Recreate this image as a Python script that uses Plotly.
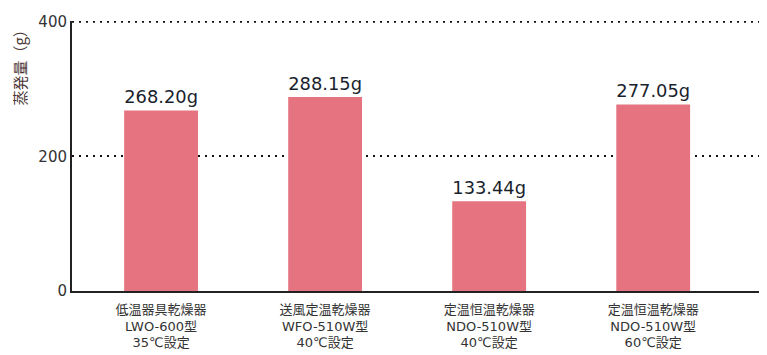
import plotly.graph_objects as go

categories = [
    "低温器具乾燥器<br>LWO-600型<br>35℃設定",
    "送風定温乾燥器<br>WFO-510W型<br>40℃設定",
    "定温恒温乾燥器<br>NDO-510W型<br>40℃設定",
    "定温恒温乾燥器<br>NDO-510W型<br>60℃設定",
]
values = [268.20, 288.15, 133.44, 277.05]
value_labels = ["268.20g", "288.15g", "133.44g", "277.05g"]
y_ticks = [0, 200, 400]
y_title = "蒸発量（g）"

FONT = "DejaVu Sans, Noto Sans CJK JP, sans-serif"
CJK = "Noto Sans CJK JP, sans-serif"

fig = go.Figure()
fig.add_trace(go.Bar(
    x=list(range(len(categories))),
    y=values,
    width=0.45,
    marker=dict(color="#E57380", line=dict(width=0)),
    text=value_labels,
    textposition="outside",
    textfont=dict(size=18, color="#1a1f2e", family=FONT),
    cliponaxis=False,
))

# top gridline (plotly omits the grid line at the range edge)
fig.add_shape(
    type="line", xref="paper", yref="y",
    x0=0, x1=1, y0=y_ticks[-1], y1=y_ticks[-1],
    line=dict(color="#111111", width=2, dash="2px,5px"),
    layer="above",
)

fig.update_layout(
    width=767, height=355,
    margin=dict(l=72, r=8, t=21, b=64),
    paper_bgcolor="white", plot_bgcolor="white",
    showlegend=False,
    font=dict(family=FONT, color="#333333"),
    xaxis=dict(
        range=[-0.543, 3.645],
        tickmode="array",
        tickvals=list(range(len(categories))),
        ticktext=categories,
        tickfont=dict(size=13, color="#333333", family=FONT),
        ticklabelstandoff=5,
        automargin=False,
        showgrid=False, zeroline=False,
        showline=True, linecolor="#222222", linewidth=2,
        ticks="", ticklen=0,
    ),
    yaxis=dict(
        range=[0, 401],
        tickmode="array",
        tickvals=y_ticks,
        tickfont=dict(size=15, color="#333333", family=FONT),
        automargin=False,
        showgrid=True, gridcolor="#111111", griddash="2px,5px", gridwidth=2,
        zeroline=False,
        showline=True, linecolor="#222222", linewidth=2,
        ticks="", ticklen=0,
    ),
    annotations=[dict(
        text=y_title, textangle=-90,
        xref="paper", yref="paper",
        x=-0.077, y=1.0, xanchor="center", yanchor="top",
        showarrow=False,
        font=dict(size=15, color="#4a3535", family=CJK),
    )],
)

fig.write_html("out.html")
